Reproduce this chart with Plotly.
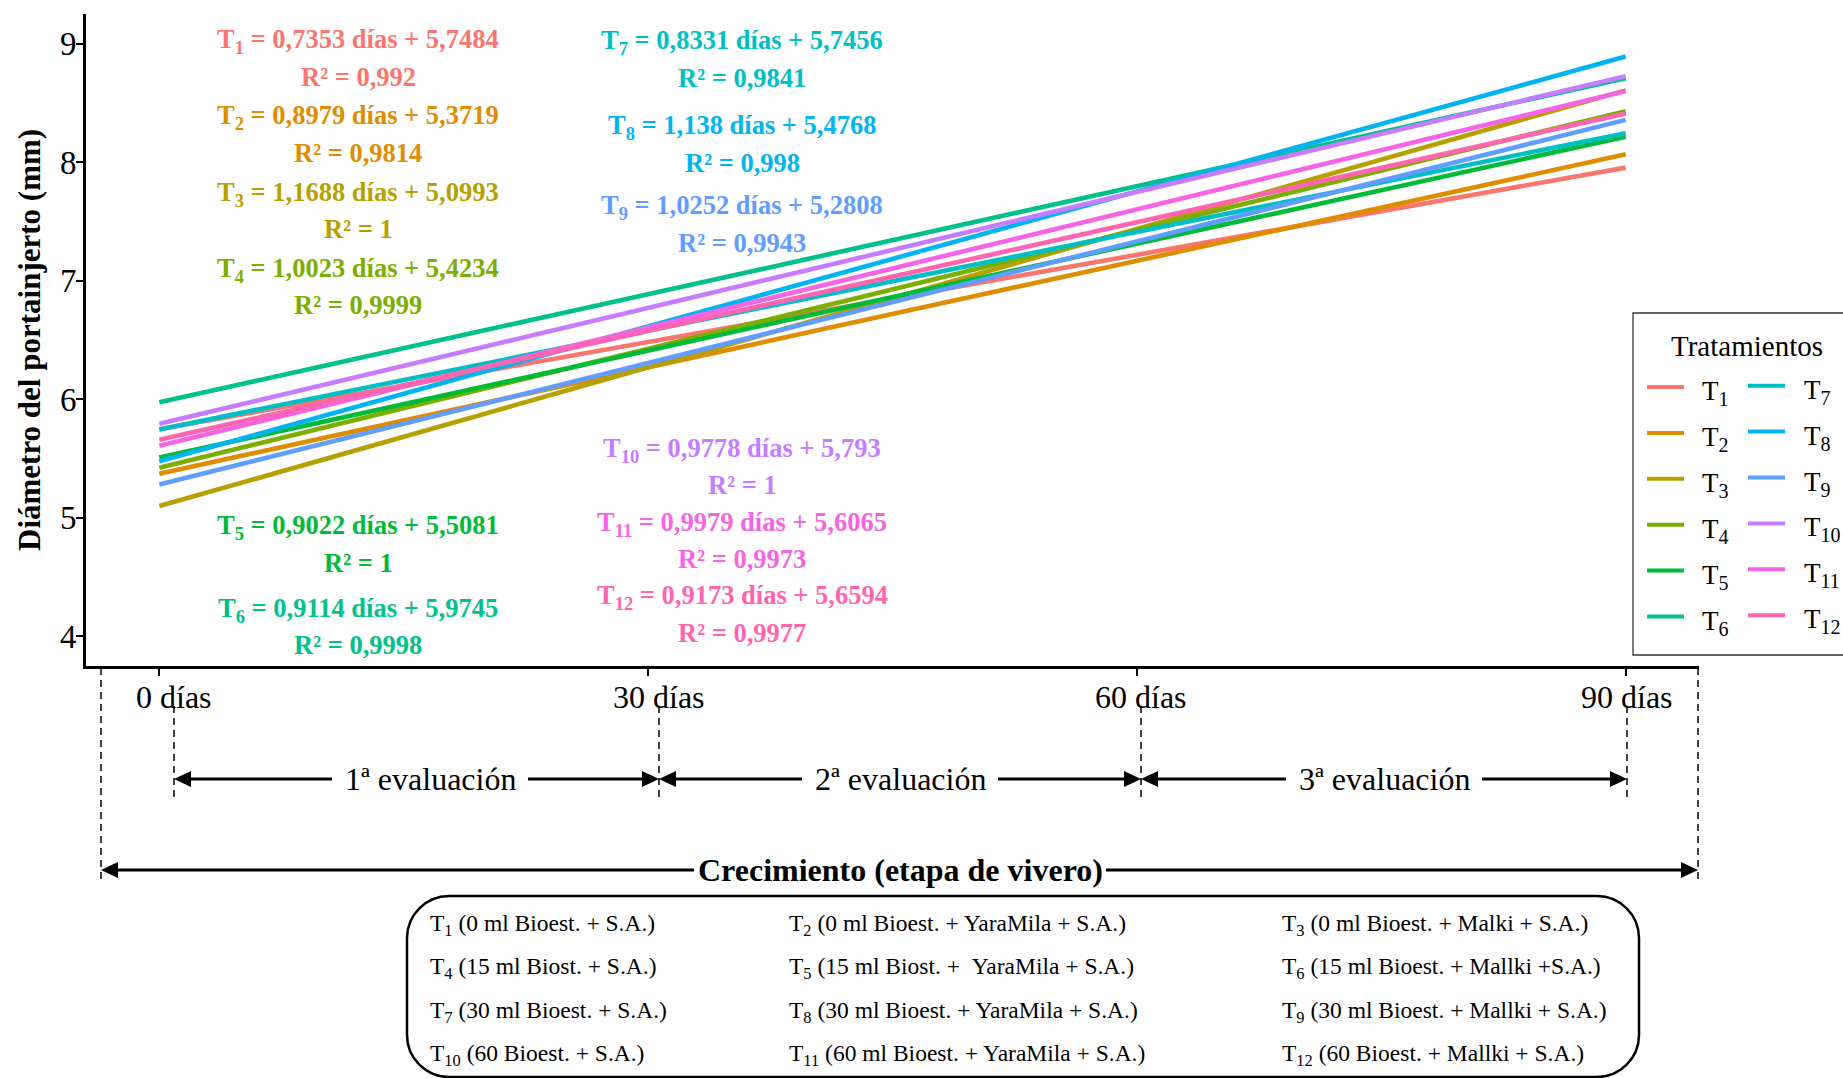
import plotly.graph_objects as go

# Evaluation dates (days in nursery)
dias = [0, 30, 60, 90]

# Mean rootstock diameter (mm) per treatment at each evaluation date
t1 = [5.748, 6.484, 7.219, 7.954]
t2 = [5.372, 6.270, 7.168, 8.066]
t3 = [5.099, 6.268, 7.437, 8.606]
t4 = [5.423, 6.426, 7.428, 8.430]
t5 = [5.508, 6.410, 7.313, 8.215]
t6 = [5.975, 6.886, 7.797, 8.709]
t7 = [5.746, 6.579, 7.412, 8.245]
t8 = [5.477, 6.615, 7.753, 8.891]
t9 = [5.281, 6.306, 7.331, 8.357]
t10 = [5.793, 6.771, 7.749, 8.726]
t11 = [5.607, 6.604, 7.602, 8.600]
t12 = [5.659, 6.577, 7.494, 8.411]
series = [t1, t2, t3, t4, t5, t6, t7, t8, t9, t10, t11, t12]

# Linear fits (per evaluation) and coefficients of determination
pendientes = [0.7353, 0.8979, 1.1688, 1.0023, 0.9022, 0.9114,
              0.8331, 1.138, 1.0252, 0.9778, 0.9979, 0.9173]
interceptos = [5.7484, 5.3719, 5.0993, 5.4234, 5.5081, 5.9745,
               5.7456, 5.4768, 5.2808, 5.793, 5.6065, 5.6594]
r2 = [0.992, 0.9814, 1, 0.9999, 1, 0.9998,
      0.9841, 0.998, 0.9943, 1, 0.9973, 0.9977]

etiquetas_x = ["0 días", "30 días", "60 días", "90 días"]
evaluaciones = ["1ª evaluación", "2ª evaluación", "3ª evaluación"]

descripciones = [
    "T<sub>1</sub> (0 ml Bioest. + S.A.)",
    "T<sub>2</sub> (0 ml Bioest. + YaraMila + S.A.)",
    "T<sub>3</sub> (0 ml Bioest. + Malki + S.A.)",
    "T<sub>4</sub> (15 ml Biost. + S.A.)",
    "T<sub>5</sub> (15 ml Biost. + \u00a0YaraMila + S.A.)",
    "T<sub>6</sub> (15 ml Bioest. + Mallki +S.A.)",
    "T<sub>7</sub> (30 ml Bioest. + S.A.)",
    "T<sub>8</sub> (30 ml Bioest. + YaraMila + S.A.)",
    "T<sub>9</sub> (30 ml Bioest. + Mallki + S.A.)",
    "T<sub>10</sub> (60 Bioest. + S.A.)",
    "T<sub>11</sub> (60 ml Bioest. + YaraMila + S.A.)",
    "T<sub>12</sub> (60 Bioest. + Mallki + S.A.)",
]

colores = ["#F8766D", "#DE8C00", "#B79F00", "#7CAE00", "#00BA38", "#00C08B",
           "#00BFC4", "#00B4F0", "#619CFF", "#C77CFF", "#F564E3", "#FF64B0"]

FONT = "Liberation Serif"
WIDTH, HEIGHT = 1843, 1078

# Panel placement in page pixels
L, RGT, TOP, BOT = 86, 1699, 14, 666
PW, PH = RGT - L, BOT - TOP


def fx(px):
    return (px - L) / PW


def fy(py):
    return (BOT - py) / PH


def coma(v):
    return f"{v:g}".replace(".", ",")


fig = go.Figure()

for i, ys in enumerate(series):
    fig.add_trace(go.Scatter(
        x=dias, y=ys, mode="lines", name=f"T{i + 1}",
        line=dict(color=colores[i], width=4.6),
        showlegend=False, hoverinfo="skip",
    ))

annotations = []
shapes = []

# Regression equations: left column T1-T6, centre column T7-T12
eq_pos = [
    (358, 41, 77), (358, 117, 153), (358, 194, 229), (358, 270, 305),
    (358, 527, 563), (358, 610, 645),
    (742, 42, 78), (742, 127, 163), (742, 207, 243),
    (742, 450, 485), (742, 524, 559), (742, 597, 633),
]
for i, (cx, ye, yr) in enumerate(eq_pos):
    annotations.append(dict(
        x=fx(cx), y=fy(ye), xref="paper", yref="paper",
        text=f"<b>T<sub>{i + 1}</sub> = {coma(pendientes[i])} días + {coma(interceptos[i])}</b>",
        showarrow=False, xanchor="center", yanchor="middle",
        font=dict(family=FONT, size=26.5, color=colores[i]),
    ))
    annotations.append(dict(
        x=fx(cx), y=fy(yr), xref="paper", yref="paper",
        text=f"<b>R² = {coma(r2[i])}</b>",
        showarrow=False, xanchor="center", yanchor="middle",
        font=dict(family=FONT, size=26.5, color=colores[i]),
    ))

# Y axis title
annotations.append(dict(
    x=fx(29), y=fy(340), xref="paper", yref="paper",
    text="<b>Diámetro del portainjerto (mm)</b>", textangle=-90,
    showarrow=False, xanchor="center", yanchor="middle",
    font=dict(family=FONT, size=31, color="black"),
))

# Evaluation date labels and guides
marcas = [174, 659, 1141, 1627]
for px, lab in zip(marcas, etiquetas_x):
    annotations.append(dict(
        x=fx(px), y=fy(697), xref="paper", yref="paper", text=lab,
        showarrow=False, xanchor="center", yanchor="middle",
        font=dict(family=FONT, size=32, color="black"),
    ))
    shapes.append(dict(
        type="line", xref="paper", yref="paper",
        x0=fx(px), x1=fx(px), y0=fy(706), y1=fy(800),
        line=dict(color="black", width=1.5, dash="7px,5px"),
    ))

for px in (101, 1698):
    shapes.append(dict(
        type="line", xref="paper", yref="paper",
        x0=fx(px), x1=fx(px), y0=fy(668), y1=fy(880),
        line=dict(color="black", width=1.5, dash="7px,5px"),
    ))


def punta(tx, ty, hacia, largo=17, media=8):
    d = -1 if hacia == "izq" else 1
    bx = tx - d * largo
    return dict(
        type="path", xref="paper", yref="paper",
        path=(f"M {fx(tx)},{fy(ty)} L {fx(bx)},{fy(ty - media)} "
              f"L {fx(bx)},{fy(ty + media)} Z"),
        fillcolor="black", line=dict(color="black", width=0),
    )


def flecha_doble(x0, x1, y, texto, cx_txt, ancho_texto, hueco, size, negrita=False):
    left_gap = cx_txt - ancho_texto / 2 - hueco
    right_gap = cx_txt + ancho_texto / 2 + hueco
    shapes.append(dict(type="line", xref="paper", yref="paper",
                       x0=fx(x0 + 10), x1=fx(left_gap), y0=fy(y), y1=fy(y),
                       line=dict(color="black", width=3)))
    shapes.append(dict(type="line", xref="paper", yref="paper",
                       x0=fx(right_gap), x1=fx(x1 - 10), y0=fy(y), y1=fy(y),
                       line=dict(color="black", width=3)))
    shapes.append(punta(x0, y, "izq"))
    shapes.append(punta(x1, y, "der"))
    annotations.append(dict(
        x=fx(cx_txt), y=fy(y), xref="paper", yref="paper",
        text=f"<b>{texto}</b>" if negrita else texto,
        showarrow=False, xanchor="center", yanchor="middle",
        font=dict(family=FONT, size=size, color="black"),
    ))


centros_eval = [430, 900, 1384]
for k in range(3):
    flecha_doble(marcas[k], marcas[k + 1], 779, evaluaciones[k], centros_eval[k],
                 172, 12, 32)

flecha_doble(101, 1698, 870, "Crecimiento (etapa de vivero)", 900, 404, 4, 32, True)

# Rounded box with treatment descriptions
bx0, bx1, by0, by1, rr = 407, 1639, 896, 1077, 42
k = 0.45 * rr
caja = (
    f"M {fx(bx0 + rr)},{fy(by0)} L {fx(bx1 - rr)},{fy(by0)} "
    f"C {fx(bx1 - k)},{fy(by0)} {fx(bx1)},{fy(by0 + k)} {fx(bx1)},{fy(by0 + rr)} "
    f"L {fx(bx1)},{fy(by1 - rr)} "
    f"C {fx(bx1)},{fy(by1 - k)} {fx(bx1 - k)},{fy(by1)} {fx(bx1 - rr)},{fy(by1)} "
    f"L {fx(bx0 + rr)},{fy(by1)} "
    f"C {fx(bx0 + k)},{fy(by1)} {fx(bx0)},{fy(by1 - k)} {fx(bx0)},{fy(by1 - rr)} "
    f"L {fx(bx0)},{fy(by0 + rr)} "
    f"C {fx(bx0)},{fy(by0 + k)} {fx(bx0 + k)},{fy(by0)} {fx(bx0 + rr)},{fy(by0)} Z"
)
shapes.append(dict(type="path", xref="paper", yref="paper", path=caja,
                   line=dict(color="black", width=2.5)))

col_x = [428, 787, 1280]
fila_y = [925, 968, 1012, 1055]
for idx, txt in enumerate(descripciones):
    annotations.append(dict(
        x=fx(col_x[idx % 3]), y=fy(fila_y[idx // 3]), xref="paper", yref="paper",
        text=txt, showarrow=False, xanchor="left", yanchor="middle",
        font=dict(family=FONT, size=23.5, color="black"),
    ))

# Legend panel
shapes.append(dict(type="rect", xref="paper", yref="paper",
                   x0=fx(1633), x1=fx(1870), y0=fy(313), y1=fy(655),
                   line=dict(color="#333333", width=1.3), fillcolor="white",
                   layer="below"))
annotations.append(dict(
    x=fx(1747), y=fy(346), xref="paper", yref="paper", text="Tratamientos",
    showarrow=False, xanchor="center", yanchor="middle",
    font=dict(family=FONT, size=29, color="black"),
))
for i in range(12):
    col, row = divmod(i, 6)
    ky = (387 if col == 0 else 385.7) + 45.9 * row
    kx0, kx1 = (1647, 1684) if col == 0 else (1748, 1785)
    shapes.append(dict(type="line", xref="paper", yref="paper",
                       x0=fx(kx0), x1=fx(kx1), y0=fy(ky), y1=fy(ky),
                       line=dict(color=colores[i], width=4)))
    annotations.append(dict(
        x=fx(1700 if col == 0 else 1802), y=fy(ky + 6), xref="paper", yref="paper",
        text=f"T<sub><span style='font-size:20px'>{i + 1}</span></sub>",
        showarrow=False, xanchor="left", yanchor="middle",
        font=dict(family=FONT, size=27, color="black"),
    ))

fig.update_layout(
    width=WIDTH, height=HEIGHT,
    margin=dict(l=L, r=WIDTH - RGT, t=TOP, b=HEIGHT - BOT, pad=0),
    paper_bgcolor="white", plot_bgcolor="white",
    font=dict(family=FONT, color="black"),
    xaxis=dict(range=[-4.5, 94.5], tickvals=dias, showticklabels=False,
               ticks="outside", ticklen=7, tickwidth=2, tickcolor="black",
               showline=True, linecolor="black", linewidth=3,
               showgrid=False, zeroline=False, fixedrange=True),
    yaxis=dict(range=[3.75, 9.25], tickvals=[4, 5, 6, 7, 8, 9],
               ticks="outside", ticklen=7, tickwidth=2, tickcolor="black",
               ticklabelstandoff=-7,
               tickfont=dict(family=FONT, size=33, color="black"),
               showline=True, linecolor="black", linewidth=3,
               showgrid=False, zeroline=False, fixedrange=True),
    annotations=annotations,
    shapes=shapes,
    showlegend=False,
)

fig.write_html("out.html")
